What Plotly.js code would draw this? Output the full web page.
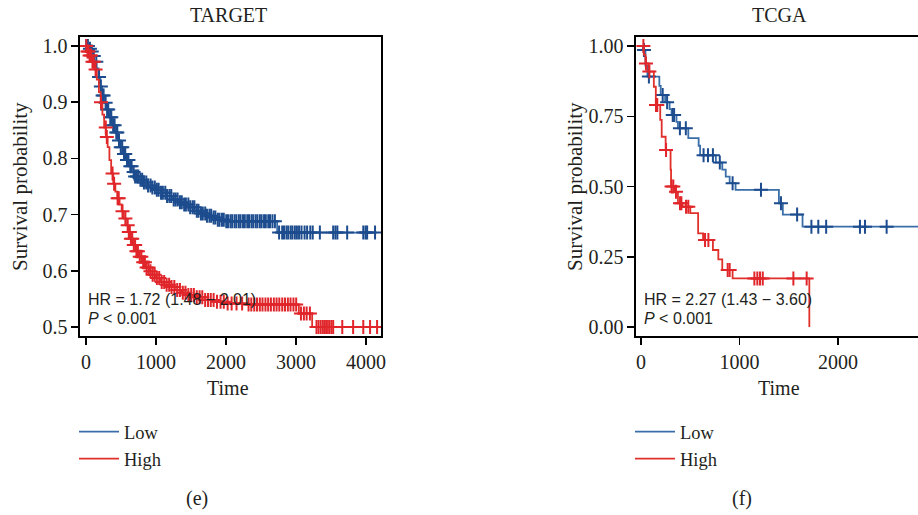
<!DOCTYPE html>
<html>
<head>
<meta charset="utf-8">
<script src="https://cdn.plot.ly/plotly-3.0.1.min.js"></script>
<style>
html,body{margin:0;padding:0;overflow:hidden;background:#fff;width:918px;height:515px;}
#chart{width:930px;height:515px;}
</style>
</head>
<body>
<div id="chart"></div>
<script>
// ---------- DATA ----------
// TARGET cohort: Kaplan-Meier step curves (time, survival)
const targetLowTime = [0,30,60,90,120,150,180,205,230,260,295,335,375,415,455,495,535,575,615,655,695,750,810,870,930,990,1070,1150,1230,1310,1390,1470,1550,1630,1710,1790,1880,1980,2730,4157];
const targetLowSurv = [1.0,0.995,0.99,0.982,0.972,0.96,0.945,0.928,0.912,0.899,0.887,0.873,0.859,0.846,0.832,0.82,0.808,0.797,0.786,0.776,0.768,0.762,0.757,0.752,0.748,0.744,0.739,0.733,0.727,0.722,0.718,0.713,0.707,0.702,0.698,0.695,0.691,0.688,0.668,0.668];
const targetHighTime = [0,15,50,90,125,155,185,210,235,260,285,310,335,360,390,420,450,480,510,540,570,600,635,675,715,755,800,850,900,950,1000,1060,1120,1190,1270,1360,1450,1560,1700,1850,2000,2300,3040,3230,4170];
const targetHighSurv = [1.0,0.99,0.983,0.972,0.958,0.94,0.918,0.9,0.878,0.855,0.838,0.82,0.797,0.773,0.755,0.741,0.729,0.718,0.706,0.693,0.681,0.669,0.657,0.646,0.635,0.625,0.615,0.606,0.599,0.593,0.587,0.58,0.575,0.571,0.566,0.561,0.557,0.553,0.548,0.545,0.542,0.54,0.524,0.5,0.5];
// TARGET censoring times
const targetLowCensor = [4,28,57,83,112,148,187,213,238,252,281,302,318,347,362,388,409,433,448,472,497,518,543,561,586,607,633,652,681,702,727,748,778,803,828,862,887,923,948,983,1012,1038,1072,1098,1133,1158,1192,1218,1253,1279,1308,1342,1368,1403,1427,1462,1488,1523,1548,1583,1607,1642,1668,1703,1728,1763,1788,1823,1848,1883,1907,1942,1968,2003,2028,2063,2088,2123,2148,2183,2208,2243,2268,2303,2328,2363,2388,2423,2448,2483,2508,2543,2568,2603,2628,2663,2698,2758,2802,2828,2863,2888,2923,2948,2983,3012,3043,3078,3122,3158,3203,3238,3340,3530,3562,3590,3730,3960,3992,4015,4128];
const targetHighCensor = [5,22,36,52,71,93,112,138,215,283,298,380,402,452,468,522,563,596,612,627,642,661,683,702,721,742,768,791,817,842,866,893,921,952,981,1013,1046,1082,1117,1152,1188,1222,1262,1303,1342,1383,1421,1462,1503,1541,1582,1623,1661,1702,1743,1782,1823,1871,1922,1968,2023,2080,2150,2230,2322,2361,2403,2442,2483,2521,2563,2602,2641,2683,2722,2761,2803,2842,2883,2921,2963,3002,3070,3112,3151,3198,3292,3321,3352,3383,3412,3441,3472,3503,3530,3660,3815,3960,4057,4157];

// TCGA cohort
const tcgaLowTime = [0,20,45,65,186,200,245,290,310,360,375,480,585,600,760,825,860,900,960,1400,1440,1640,3000];
const tcgaLowSurv = [1.0,0.986,0.93,0.891,0.858,0.826,0.80,0.775,0.754,0.73,0.707,0.672,0.645,0.611,0.585,0.56,0.535,0.512,0.488,0.44,0.40,0.357,0.357];
const tcgaHighTime = [0,28,45,75,130,150,195,210,250,300,305,340,375,420,500,580,630,730,785,825,930,1709];
const tcgaHighSurv = [1.0,0.969,0.938,0.909,0.855,0.79,0.737,0.677,0.63,0.56,0.5,0.481,0.44,0.428,0.405,0.333,0.31,0.274,0.241,0.203,0.173,0.0];
const tcgaLowCensor = [30,80,220,265,322,336,395,455,635,680,730,800,930,1218,1421,1585,1730,1800,1880,2223,2274,2494];
const tcgaHighCensor = [24,50,85,152,165,254,310,328,355,396,410,457,480,650,684,880,900,1151,1181,1208,1236,1547,1682];

const groupNames = ["Low","High"];
const xTicksTarget = [0,1000,2000,3000,4000];
const yTicksTarget = [0.5,0.6,0.7,0.8,0.9,1.0];
const yTickTextTarget = ["0.5","0.6","0.7","0.8","0.9","1.0"];
const xTicksTcga = [0,1000,2000];
const yTicksTcga = [0,0.25,0.5,0.75,1.0];
const yTickTextTcga = ["0.00","0.25","0.50","0.75","1.00"];

// ---------- STYLE ----------
const W = 930, H = 515;
const blueLine = "#3a6ea8", blueMark = "#1d4c8e";
const redLine = "#e0302a", redMark = "#e0262b";
const serif = "Liberation Serif, Times New Roman, serif";
const sans = "Liberation Sans, Arial, sans-serif";
const ink = "#231f20";

function survAt(times, surv, t){
  let v = surv[0];
  for (let i=0;i<times.length;i++){ if (times[i] <= t) v = surv[i]; else break; }
  return v;
}
function curve(times, surv, color, name, xa, ya, leg){
  return {x:times, y:surv, mode:"lines", line:{shape:"hv", color:color, width:1.8},
          name:name, xaxis:xa, yaxis:ya, legend:leg, hoverinfo:"skip"};
}
function marks(times, surv, censor, color, xa, ya){
  return {x:censor, y:censor.map(t=>survAt(times, surv, t)), mode:"markers",
          marker:{symbol:"cross-thin", size:10, line:{width:2, color:color}, color:color},
          xaxis:xa, yaxis:ya, showlegend:false, hoverinfo:"skip"};
}

const traces = [
  curve(targetLowTime, targetLowSurv, blueLine, groupNames[0], "x", "y", "legend"),
  marks(targetLowTime, targetLowSurv, targetLowCensor, blueMark, "x", "y"),
  curve(targetHighTime, targetHighSurv, redLine, groupNames[1], "x", "y", "legend"),
  marks(targetHighTime, targetHighSurv, targetHighCensor, redMark, "x", "y"),
  curve(tcgaLowTime, tcgaLowSurv, blueLine, groupNames[0], "x2", "y2", "legend2"),
  marks(tcgaLowTime, tcgaLowSurv, tcgaLowCensor, blueMark, "x2", "y2"),
  curve(tcgaHighTime, tcgaHighSurv, redLine, groupNames[1], "x2", "y2", "legend2"),
  marks(tcgaHighTime, tcgaHighSurv, tcgaHighCensor, redMark, "x2", "y2")
];

const yDom = [1-336/H, 1-37/H];
function ax(extra){
  return Object.assign({showline:true, mirror:true, linecolor:"#000", linewidth:1.6,
    ticks:"outside", ticklen:7, tickwidth:1.5, tickcolor:"#000", showgrid:false, zeroline:false,
    tickfont:{family:serif, size:20, color:ink}, fixedrange:true}, extra);
}

const px = v => v/W, py = v => 1 - v/H;
function ann(text, x, y, size, extra){
  return Object.assign({text:text, x:px(x), y:py(y), xref:"paper", yref:"paper", showarrow:false,
    font:{family:serif, size:size, color:ink}, xanchor:"center", yanchor:"middle"}, extra||{});
}

const layout = {
  width:W, height:H, margin:{l:0,r:0,t:0,b:0}, paper_bgcolor:"#fff", plot_bgcolor:"#fff",
  xaxis: ax({domain:[80/W, 381/W], range:[-85, 4213], tickvals:xTicksTarget, anchor:"y"}),
  yaxis: ax({domain:yDom, range:[0.484, 1.016], tickvals:yTicksTarget, ticktext:yTickTextTarget, anchor:"x"}),
  xaxis2: ax({domain:[636/W, 922/W], range:[-51, 2853], tickvals:xTicksTcga, anchor:"y2"}),
  yaxis2: ax({domain:yDom, range:[-0.032, 1.032], tickvals:yTicksTcga, ticktext:yTickTextTcga, anchor:"x2"}),
  legend: {x:px(74), y:py(413), xanchor:"left", yanchor:"top", bgcolor:"rgba(0,0,0,0)", itemwidth:40,
           font:{family:serif, size:18.5, color:ink}, tracegroupgap:0},
  legend2: {x:px(630), y:py(413), xanchor:"left", yanchor:"top", bgcolor:"rgba(0,0,0,0)", itemwidth:40,
           font:{family:serif, size:18.5, color:ink}, tracegroupgap:0},
  annotations: [
    ann("TARGET", 228, 15, 20),
    ann("TCGA", 779, 15, 20),
    ann("Survival probability", 20, 187, 21, {textangle:-90}),
    ann("Survival probability", 575, 187, 21, {textangle:-90}),
    ann("Time", 228, 388, 20),
    ann("Time", 779, 388, 20),
    ann("HR = 1.72 (1.48 − 2.01)", 86, 299, 16, {xanchor:"left", font:{family:sans, size:16, color:ink}}),
    ann("<i>P</i> < 0.001", 86, 318, 16, {xanchor:"left", font:{family:sans, size:16, color:ink}}),
    ann("HR = 2.27 (1.43 − 3.60)", 642, 299, 16, {xanchor:"left", font:{family:sans, size:16, color:ink}}),
    ann("<i>P</i> < 0.001", 642, 318, 16, {xanchor:"left", font:{family:sans, size:16, color:ink}}),
    ann("(e)", 197, 498, 20),
    ann("(f)", 742, 498, 20)
  ],
  showlegend:true
};

Plotly.newPlot("chart", traces, layout, {staticPlot:true, displayModeBar:false});
</script>
</body>
</html>
